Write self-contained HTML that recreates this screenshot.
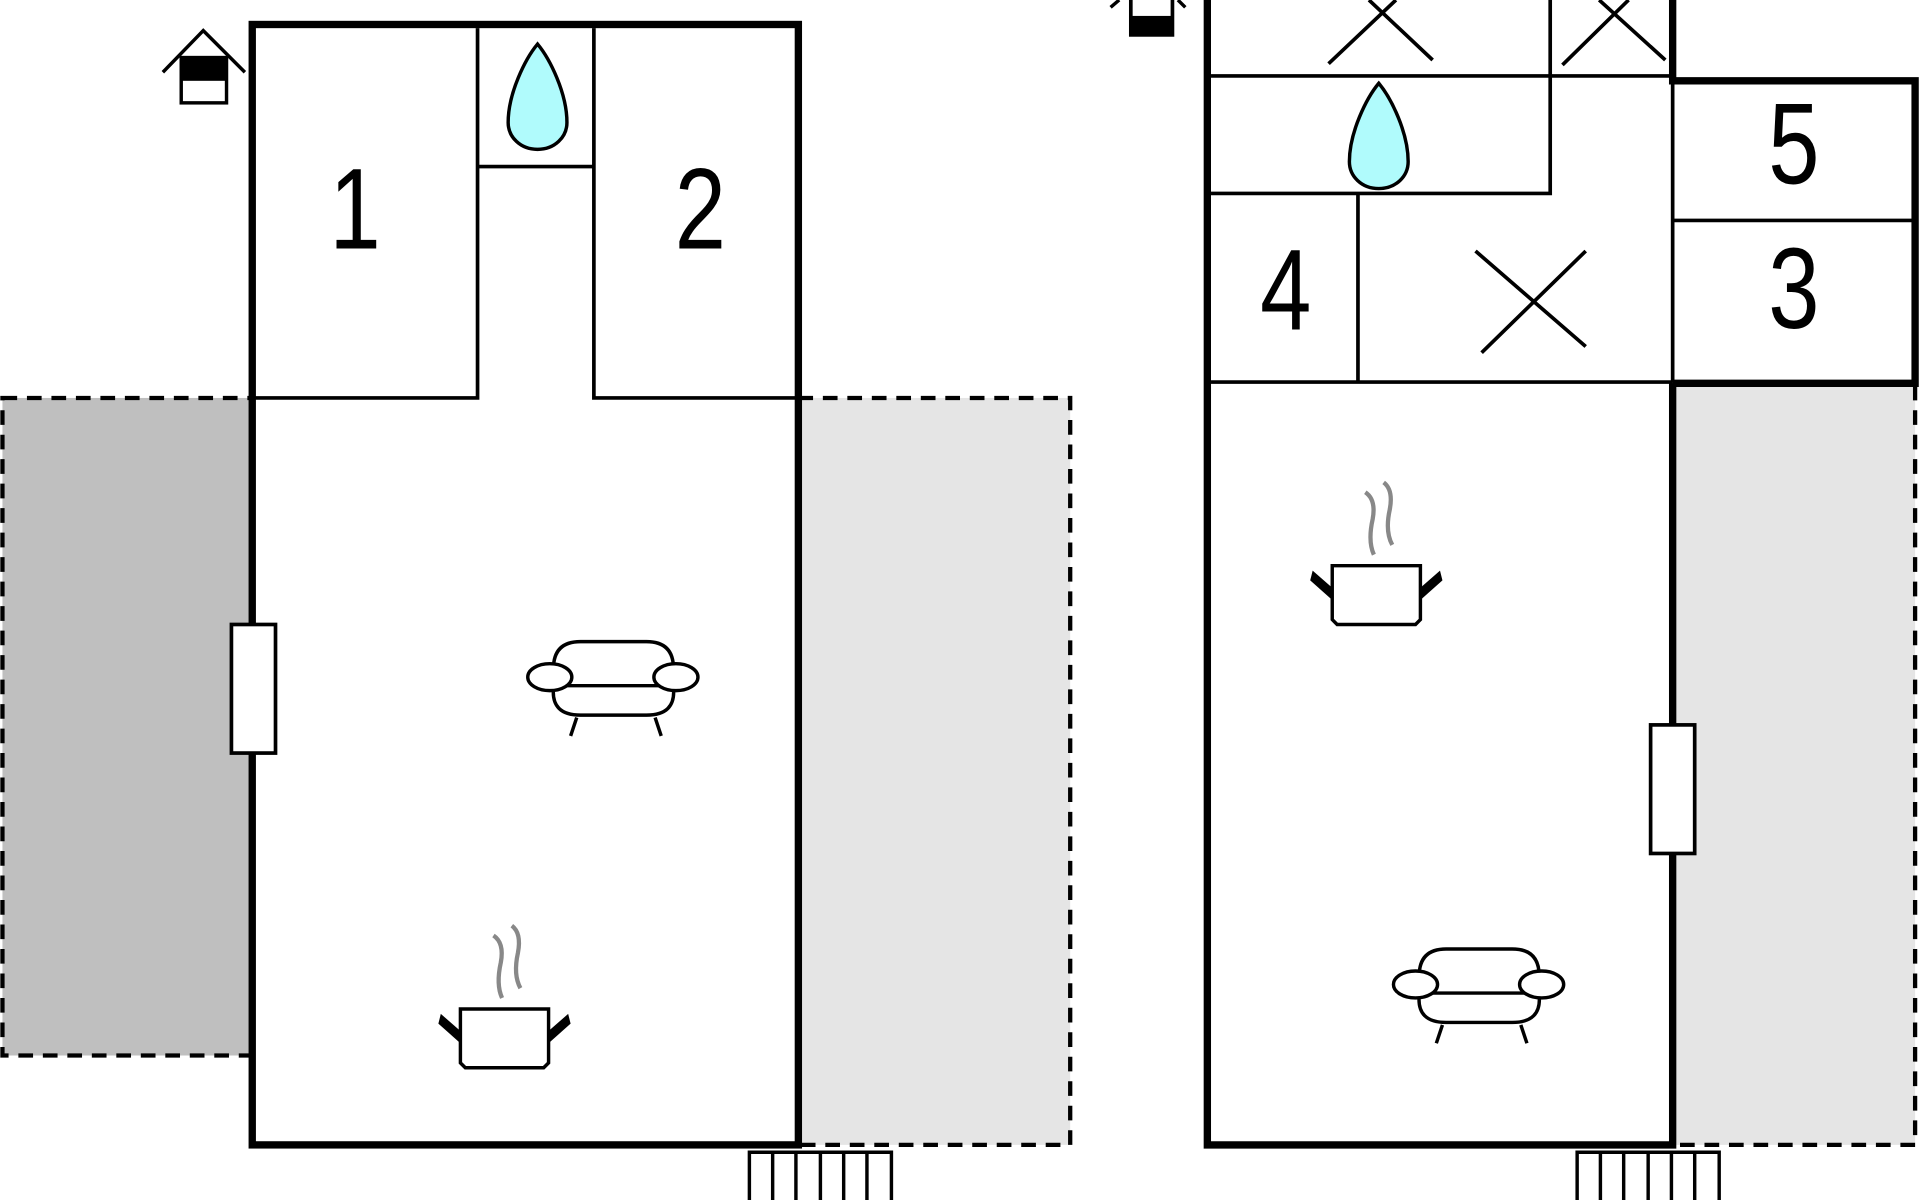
<!DOCTYPE html>
<html><head><meta charset="utf-8"><style>html,body{margin:0;padding:0;background:#fff}svg{display:block}</style></head><body>
<svg width="1920" height="1200" viewBox="0 0 1568 980" xmlns="http://www.w3.org/2000/svg">
<defs>
<g id="sofa" fill="none" stroke="#000" stroke-width="2.8">
<path d="M452,546 Q452,524 474,524 L528,524 Q550,524 550,546" fill="#fff"/>
<path d="M452,562 Q450,584 474,584 L528,584 Q552,584 550,562" fill="#fff"/>
<line x1="462" y1="560" x2="540" y2="560"/>
<ellipse cx="449" cy="553" rx="18" ry="11" fill="#fff"/>
<ellipse cx="552" cy="553" rx="18" ry="11" fill="#fff"/>
<line x1="471" y1="586" x2="466" y2="601"/>
<line x1="535" y1="586" x2="540" y2="601"/>
</g>
<g id="pot">
<path d="M403,764 Q412,770 409,786 Q405,804 410,815" fill="none" stroke="#888" stroke-width="3.5"/>
<path d="M418,756 Q426,762 423,778 Q419,796 425,807" fill="none" stroke="#888" stroke-width="3.5"/>
<path d="M376,824 L448,824 L448,868 L444,872 L380,872 L376,868 Z" fill="#fff" stroke="#000" stroke-width="2.8"/>
<path d="M376,842 L360,828 L358,836 L376,852 Z" fill="#000"/>
<path d="M448,842 L464,828 L466,836 L448,852 Z" fill="#000"/>
</g>
<path id="drop" d="M0,0 C10,12 24,40 24,64 C24,76 14,86 0,86 C-14,86 -24,76 -24,64 C-24,40 -10,12 0,0 Z" fill="#b0fbfc" stroke="#000" stroke-width="2.8"/>
</defs>
<rect x="2" y="325" width="204" height="537" fill="#bfbfbf" stroke="#000" stroke-width="3.5" stroke-dasharray="12,8"/>
<rect x="652" y="325" width="222" height="610" fill="#e5e5e5" stroke="#000" stroke-width="3.5" stroke-dasharray="12,8"/>
<rect x="206" y="20" width="446" height="915" fill="#fff" stroke="#000" stroke-width="6"/>
<g stroke="#000" stroke-width="3" fill="none">
<path d="M206,325 L390,325 L390,23 M390,136 L485,136 M485,23 L485,325 L652,325"/>
</g>
<use href="#drop" x="439" y="36"/>
<rect x="189" y="510" width="36" height="105" fill="#fff" stroke="#000" stroke-width="3"/>
<use href="#sofa"/>
<use href="#pot"/>
<path d="M133,59 L166,25 L200,59" fill="none" stroke="#000" stroke-width="2.8"/>
<rect x="148" y="47" width="37" height="37" fill="#fff" stroke="#000" stroke-width="2.8"/>
<rect x="148" y="47" width="37" height="19" fill="#000"/>
<g stroke="#000" stroke-width="2.8" fill="none">
<path d="M612,980 L612,941 L728,941 L728,980 M631,941 V980 M650,941 V980 M670,941 V980 M689,941 V980 M708,941 V980"/>
<path d="M1288,980 L1288,941 L1404,941 L1404,980 M1307,941 V980 M1326,941 V980 M1346,941 V980 M1365,941 V980 M1384,941 V980"/>
</g>
<rect x="1366" y="313" width="198" height="622" fill="#e5e5e5" stroke="#000" stroke-width="3.5" stroke-dasharray="12,8"/>
<path d="M986,0 L986,935 L1366,935 L1366,313" fill="#fff" stroke="#000" stroke-width="6"/>
<rect x="989" y="0" width="374" height="312" fill="#fff"/>
<path d="M1366,0 L1366,66 L1564,66 L1564,313 L1366,313" fill="none" stroke="#000" stroke-width="6"/>
<g stroke="#000" stroke-width="3" fill="none">
<path d="M989,62 L1366,62 M1266,0 V158 L989,158 M1109,158 V312 M989,312 L1366,312 M1366,66 V312 M1366,180 L1564,180"/>
<path d="M1085,52 L1140,0 M1170,49 L1118,0 M1276,53 L1330,0 M1360,49 L1306,0"/>
<path d="M1205,205 L1295,283 M1295,205 L1210,288"/>
</g>
<use href="#drop" x="1126" y="68"/>
<rect x="1348" y="592" width="36" height="105" fill="#fff" stroke="#000" stroke-width="3"/>
<use href="#sofa" x="707" y="251"/>
<use href="#pot" x="712" y="-362"/>
<path d="M907,6 L914,0 M968,6 L962,0" stroke="#000" stroke-width="2.8"/>
<rect x="922" y="0" width="37" height="30" fill="#000"/>
<rect x="925" y="0" width="31" height="13" fill="#fff"/>
<g font-family="Liberation Sans,sans-serif" font-size="94" text-anchor="middle">
<text transform="translate(290,203) scale(0.8,1)">1</text>
<text transform="translate(572,203) scale(0.8,1)">2</text>
<text transform="translate(1050,269) scale(0.8,1)">4</text>
<text transform="translate(1465,150) scale(0.8,1)">5</text>
<text transform="translate(1465,268) scale(0.8,1)">3</text>
</g>
</svg>
</body></html>
